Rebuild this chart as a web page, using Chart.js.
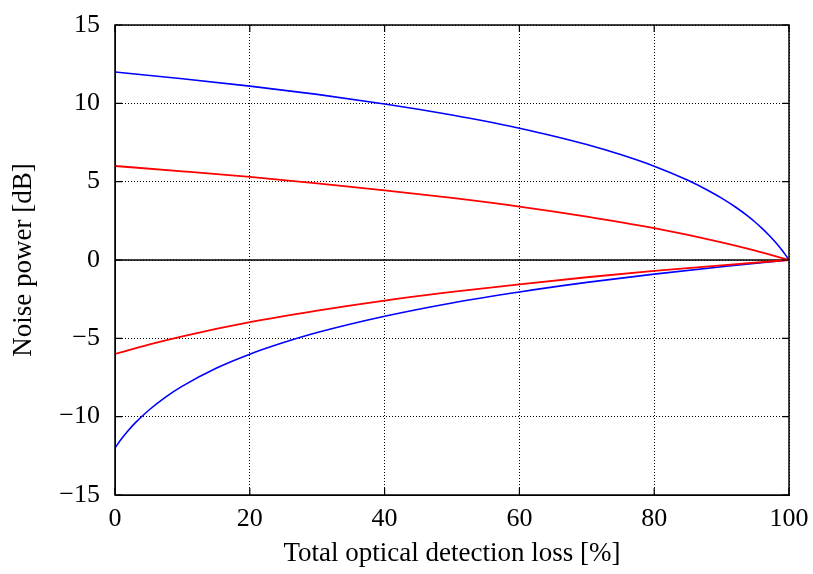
<!DOCTYPE html>
<html>
<head>
<meta charset="utf-8">
<script src="https://cdn.jsdelivr.net/npm/chart.js@4"></script>
<style>
  html, body { margin: 0; padding: 0; background: #fff; }
  #wrap { width: 813px; height: 574px; }
</style>
</head>
<body>
<div id="wrap"><canvas id="c" width="813" height="574"></canvas></div>
<script>
/* noise vs. total detection loss — anti-squeezing / squeezing curves */

const xTicks = [0, 20, 40, 60, 80, 100];
const yTicks = [-15, -10, -5, 0, 5, 10, 15];

// 12 dB pair (blue)
const blueAntiX = [0, 10, 20, 30, 40, 45, 50, 55, 60, 65, 70, 75, 80, 85, 88, 90, 92, 94, 95, 96, 97, 98, 99, 99.5, 100];
const blueAntiY = [12, 11.57, 11.10, 10.57, 9.96, 9.62, 9.26, 8.86, 8.41, 7.92, 7.37, 6.73, 5.99, 5.09, 4.44, 3.95, 3.40, 2.77, 2.41, 2.02, 1.60, 1.13, 0.60, 0.31, 0];
const blueSqzX = [0, 0.5, 1, 2, 3, 5, 7.5, 10, 15, 20, 25, 30, 40, 50, 60, 70, 80, 90, 100];
const blueSqzY = [-12, -11.69, -11.40, -10.87, -10.40, -9.59, -8.75, -8.05, -6.91, -6.01, -5.27, -4.63, -3.59, -2.74, -2.04, -1.43, -0.90, -0.43, 0];

// 6 dB pair (red)
const redAntiX = [0, 10, 20, 30, 40, 50, 60, 70, 80, 90, 95, 100];
const redAntiY = [6, 5.66, 5.30, 4.89, 4.45, 3.96, 3.41, 2.77, 2.03, 1.13, 0.60, 0];
const redSqzX = [0, 5, 10, 20, 30, 40, 50, 60, 70, 80, 90, 100];
const redSqzY = [-6, -5.40, -4.87, -3.97, -3.23, -2.59, -2.04, -1.55, -1.10, -0.70, -0.34, 0];

const zeroX = [0, 100];
const zeroY = [0, 0];

const pts = (xs, ys) => xs.map((x, i) => ({ x, y: ys[i] }));

function curve(xs, ys, color, width, order) {
  return {
    data: pts(xs, ys),
    borderColor: color,
    borderWidth: width,
    pointRadius: 0,
    fill: false,
    cubicInterpolationMode: "monotone",
    order
  };
}

const FONT = { family: "'Liberation Serif', 'DejaVu Serif', serif", size: 26 };
const TITLE_FONT = { family: "'Liberation Serif', 'DejaVu Serif', serif", size: 27 };
const minus = v => (v < 0 ? "\u2212" + Math.abs(v) : String(v));

new Chart(document.getElementById("c"), {
  type: "line",
  data: {
    datasets: [
      curve(zeroX, zeroY, "#000000", 1.6, 4),
      curve(blueAntiX, blueAntiY, "#0000ff", 1.6, 3),
      curve(blueSqzX, blueSqzY, "#0000ff", 1.6, 3),
      curve(redAntiX, redAntiY, "#ff0000", 1.8, 1),
      curve(redSqzX, redSqzY, "#ff0000", 1.8, 1)
    ]
  },
  options: {
    responsive: false,
    animation: false,
    layout: { padding: { top: 25, right: 24, left: 0, bottom: 0 } },
    plugins: { legend: { display: false }, tooltip: { enabled: false } },
    scales: {
      x: {
        type: "linear",
        min: 0, max: 100,
        afterBuildTicks: s => { s.ticks = xTicks.map(v => ({ value: v })); },
        afterFit: s => { s.height = 574 - 495; s.paddingLeft = 0; s.paddingRight = 0; },
        ticks: { color: "#000", font: FONT, padding: 9, maxRotation: 0 },
        grid: { color: "#000", lineWidth: 1, drawTicks: false },
        border: { display: true, color: "#000", width: 1, dash: [1, 2] },
        title: { display: true, text: "Total optical detection loss [%]", color: "#000", font: TITLE_FONT, padding: { top: 0, bottom: 4 } }
      },
      y: {
        type: "linear",
        min: -15, max: 15,
        afterBuildTicks: s => { s.ticks = yTicks.map(v => ({ value: v })); },
        afterFit: s => { s.width = 115; s.paddingTop = 0; s.paddingBottom = 0; },
        ticks: { color: "#000", font: FONT, padding: 15, callback: v => minus(v) },
        grid: { color: "#000", lineWidth: 1, drawTicks: false },
        border: { display: true, color: "#000", width: 1, dash: [1, 2] },
        title: { display: true, text: "Noise power [dB]", color: "#000", font: TITLE_FONT, padding: { top: 8, bottom: 0 } }
      }
    }
  },
  plugins: [{
    id: "frameTicks",
    afterDraw(chart) {
      const a = chart.chartArea, ctx = chart.ctx;
      const sx = chart.scales.x, sy = chart.scales.y;
      const len = 7;
      ctx.save();
      ctx.strokeStyle = "#000";
      ctx.setLineDash([]);
      ctx.lineWidth = 1.2;
      ctx.beginPath();
      xTicks.forEach(v => {
        const px = sx.getPixelForValue(v);
        ctx.moveTo(px, a.bottom); ctx.lineTo(px, a.bottom - len);
        ctx.moveTo(px, a.top); ctx.lineTo(px, a.top + len);
      });
      yTicks.forEach(v => {
        const py = sy.getPixelForValue(v);
        ctx.moveTo(a.left, py); ctx.lineTo(a.left + len, py);
        ctx.moveTo(a.right, py); ctx.lineTo(a.right - len, py);
      });
      ctx.stroke();
      ctx.lineWidth = 1.5;
      ctx.strokeRect(a.left, a.top, a.right - a.left, a.bottom - a.top);
      ctx.restore();
    }
  }]
});
</script>
</body>
</html>
